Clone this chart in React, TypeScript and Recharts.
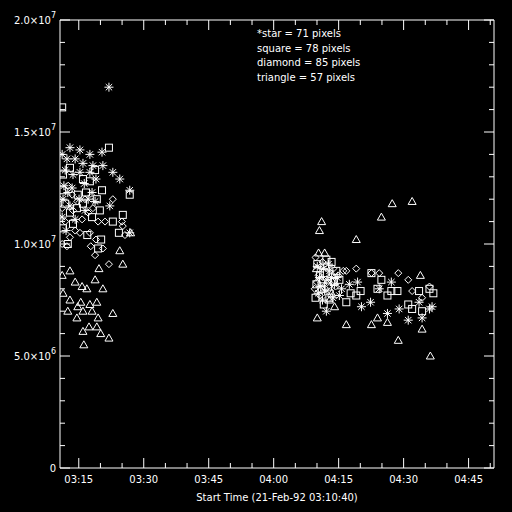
import React from 'react';
import { ScatterChart, Scatter, XAxis, YAxis } from 'recharts';

// minutes after the start time (03:10:40), values in units of 1e6
const START = '03:10:40';
const X_MAX = 100.2;

const starPts = [
  [11.3, 17.0], [2.3, 14.3], [4.6, 14.2], [6.9, 14.0], [9.7, 14.1], [0.5, 14.0], [1.6, 13.8],
  [3.5, 13.8], [5.3, 13.6], [7.6, 13.5], [9.9, 13.5], [12.2, 13.2], [13.8, 12.9], [16.1, 12.4],
  [4.6, 13.2], [8.3, 12.9], [2.8, 12.5], [7.4, 12.3], [0.9, 12.6], [6.5, 12.0], [8.1, 11.9],
  [0.7, 12.0], [2.3, 11.7], [5.8, 11.5], [3.5, 11.1], [1.4, 10.6], [11.5, 11.7], [16.1, 10.5],
  [1.2, 13.3], [3.0, 13.1], [5.6, 12.7], [6.9, 13.2], [1.8, 12.3], [4.4, 12.0], [0.5, 11.2],
  [69.6, 7.2], [71.7, 7.4], [75.6, 6.9], [78.3, 7.1], [80.4, 6.6], [83.6, 6.7], [85.9, 7.2],
  [85.3, 7.1], [68.7, 8.3], [76.5, 8.3], [82.9, 7.4], [73.7, 8.0], [66.8, 8.2], [59.9, 8.5],
  [61.1, 7.9], [62.2, 8.8], [60.6, 7.5], [63.4, 8.2], [59.4, 9.0], [64.5, 7.7], [61.5, 7.0],
  [62.7, 8.5], [65.0, 8.0], [60.2, 8.1], [61.6, 8.4], [63.0, 7.6], [59.6, 7.8], [62.0, 9.1],
  [60.8, 8.9], [64.0, 8.5],
];

const squarePts = [
  [11.3, 14.3], [0.5, 16.1], [0.7, 13.1], [2.3, 13.4], [5.3, 12.9], [6.9, 12.8], [8.1, 13.3],
  [9.7, 12.4], [16.1, 12.2], [4.1, 12.2], [1.2, 11.8], [2.3, 11.4], [7.4, 11.2], [12.2, 11.0],
  [14.5, 11.3], [9.2, 11.5], [5.3, 11.8], [3.9, 11.6], [6.3, 10.4], [0.7, 10.7], [13.6, 10.5],
  [9.5, 10.2], [1.8, 10.0], [8.8, 9.8], [3.0, 10.9], [0.5, 12.4], [6.0, 12.3], [8.5, 12.0],
  [71.9, 8.7], [74.2, 8.4], [73.3, 8.0], [75.6, 7.7], [76.5, 7.9], [77.9, 7.9], [80.4, 7.3],
  [81.3, 7.1], [82.9, 7.9], [86.2, 7.8], [83.6, 7.0], [69.4, 7.9], [67.1, 7.8], [68.4, 7.7],
  [66.1, 7.4], [85.3, 8.0], [59.4, 9.1], [61.1, 8.7], [62.7, 9.2], [63.8, 8.8], [60.4, 8.0],
  [62.2, 7.6], [64.5, 8.4], [59.2, 8.2], [61.5, 9.3], [60.0, 8.6], [61.9, 8.1], [63.2, 8.3],
  [59.0, 7.6], [60.9, 7.3],
];

const diamondPts = [
  [2.3, 10.3], [4.6, 10.5], [6.9, 10.5], [1.6, 9.9], [7.1, 9.9], [8.1, 9.5], [9.9, 9.8],
  [11.3, 9.1], [8.3, 10.2], [14.3, 11.0], [12.2, 12.0], [3.0, 11.5], [1.2, 11.0], [5.1, 11.1],
  [0.5, 10.0], [2.8, 12.2], [5.8, 12.0], [8.8, 11.0], [10.4, 11.0], [14.5, 10.8], [0.5, 11.6],
  [3.5, 10.6], [6.5, 11.4], [15.0, 10.4], [4.0, 11.9], [7.6, 11.6], [1.9, 12.6],
  [66.1, 8.8], [68.4, 8.9], [73.7, 8.7], [78.1, 8.7], [80.4, 8.4], [83.6, 7.6], [81.3, 7.9],
  [71.9, 8.7], [85.3, 8.1], [59.7, 8.6], [60.6, 9.2], [61.8, 8.3], [63.1, 8.9], [58.8, 8.0],
  [62.4, 7.9], [64.2, 8.6], [60.0, 7.7], [63.6, 8.1], [65.4, 8.8], [59.0, 9.4], [61.3, 8.0],
  [62.9, 8.6], [60.3, 9.0], [59.3, 8.3],
];

const trianglePts = [
  [2.3, 8.8], [0.5, 8.6], [9.0, 8.9], [14.5, 9.1], [3.5, 8.3], [5.1, 8.1], [6.2, 8.0],
  [8.1, 8.4], [9.9, 8.0], [0.7, 7.8], [2.3, 7.5], [4.8, 7.4], [6.9, 7.3], [8.5, 7.4],
  [4.1, 7.2], [5.3, 7.0], [7.4, 7.0], [1.8, 7.0], [3.9, 6.7], [8.8, 6.7], [12.2, 6.9],
  [5.3, 6.1], [6.7, 6.3], [8.5, 6.3], [9.4, 6.0], [11.3, 5.8], [5.5, 5.5], [13.8, 9.7],
  [16.3, 10.5],
  [76.7, 11.8], [81.3, 11.9], [74.2, 11.2], [60.4, 11.0], [59.9, 10.6], [68.4, 10.2],
  [59.7, 9.6], [61.1, 9.6], [83.2, 8.6], [59.4, 6.7], [66.1, 6.4], [71.9, 6.4], [73.3, 6.7],
  [75.6, 6.5], [83.6, 6.2], [78.1, 5.7], [85.5, 5.0], [63.4, 7.2], [62.2, 7.5], [60.4, 8.4],
  [62.7, 7.8], [59.2, 8.9],
];

const xTickTimes = [
  '03:15', '03:20', '03:25', '03:30', '03:35', '03:40', '03:45', '03:50', '03:55', '04:00',
  '04:05', '04:10', '04:15', '04:20', '04:25', '04:30', '04:35', '04:40', '04:45', '04:50',
];
const xTickLabels = ['03:15', '03:30', '03:45', '04:00', '04:15', '04:30', '04:45'];

const yTickValues = [0, 1, 2, 3, 4, 5, 6, 7, 8, 9, 10, 11, 12, 13, 14, 15, 16, 17, 18, 19, 20];
const yMajorValues = [0, 5, 10, 15, 20];
const yMajorMantissa = ['0', '5.0', '1.0', '1.5', '2.0'];
const yMajorExponent = ['', '6', '7', '7', '7'];

const legendLines = ['*star = 71 pixels', 'square = 78 pixels', 'diamond = 85 pixels', 'triangle = 57 pixels'];

const FONT = '"DejaVu Sans", sans-serif';
const WHITE = '#ffffff';

const toMin = (s: string) => {
  const p = s.split(':').map(Number);
  return p[0] * 60 + p[1] + (p[2] || 0) / 60;
};
const startMin = toMin(START);
const xTicks = xTickTimes.map((t) => toMin(t) - startMin);
const clockOf = (v: number) => {
  const m = Math.round(v + startMin);
  const hh = String(Math.floor(m / 60)).padStart(2, '0');
  const mm = String(m % 60).padStart(2, '0');
  return `${hh}:${mm}`;
};

const toObjs = (pts: number[][]) => pts.map(([x, y]) => ({ x, y }));

const StarShape = (p: any) => {
  const { cx, cy } = p;
  const r = 4.5;
  const d = 3.2;
  return (
    <g stroke={WHITE} strokeWidth={1}>
      <line x1={cx - r} y1={cy} x2={cx + r} y2={cy} />
      <line x1={cx} y1={cy - r} x2={cx} y2={cy + r} />
      <line x1={cx - d} y1={cy - d} x2={cx + d} y2={cy + d} />
      <line x1={cx - d} y1={cy + d} x2={cx + d} y2={cy - d} />
    </g>
  );
};

const SquareShape = (p: any) => {
  const { cx, cy } = p;
  return <rect x={cx - 3.5} y={cy - 3.5} width={7} height={7} fill="none" stroke={WHITE} strokeWidth={1} />;
};

const DiamondShape = (p: any) => {
  const { cx, cy } = p;
  const r = 3.5;
  return (
    <polygon
      points={`${cx},${cy - r} ${cx + r},${cy} ${cx},${cy + r} ${cx - r},${cy}`}
      fill="none"
      stroke={WHITE}
      strokeWidth={1}
    />
  );
};

const TriangleShape = (p: any) => {
  const { cx, cy } = p;
  return (
    <polygon
      points={`${cx},${cy - 4} ${cx + 4},${cy + 3} ${cx - 4},${cy + 3}`}
      fill="none"
      stroke={WHITE}
      strokeWidth={1}
    />
  );
};

const BottomTick = (p: any) => {
  const { x, y, payload } = p;
  const label = clockOf(payload.value);
  const major = xTickLabels.includes(label);
  return (
    <g>
      <line x1={x} y1={y} x2={x} y2={y - (major ? 10 : 5)} stroke={WHITE} />
      {major && (
        <text x={x} y={y + 15} textAnchor="middle" fill={WHITE} fontSize={10} fontFamily={FONT}>
          {label}
        </text>
      )}
    </g>
  );
};

const TopTick = (p: any) => {
  const { x, y, payload } = p;
  const major = xTickLabels.includes(clockOf(payload.value));
  return <line x1={x} y1={y} x2={x} y2={y + (major ? 10 : 5)} stroke={WHITE} />;
};

const LeftTick = (p: any) => {
  const { x, y, payload } = p;
  const i = yMajorValues.indexOf(payload.value);
  const major = i >= 0;
  return (
    <g>
      <line x1={x} y1={y} x2={x + (major ? 10 : 5)} y2={y} stroke={WHITE} />
      {major && (
        <text x={x - 4} y={y + 4} textAnchor="end" fill={WHITE} fontSize={10} fontFamily={FONT}>
          {yMajorExponent[i] ? `${yMajorMantissa[i]}×10` : yMajorMantissa[i]}
          {yMajorExponent[i] && (
            <tspan dy={-6} fontSize={8}>
              {yMajorExponent[i]}
            </tspan>
          )}
        </text>
      )}
    </g>
  );
};

const RightTick = (p: any) => {
  const { x, y, payload } = p;
  const major = yMajorValues.includes(payload.value);
  return <line x1={x} y1={y} x2={x - (major ? 10 : 5)} y2={y} stroke={WHITE} />;
};

export default function App() {
  return (
    <div style={{ position: 'fixed', left: 0, top: 0, width: 512, height: 512, background: '#000' }}>
      <ScatterChart width={512} height={512} margin={{ top: 0, right: 0, bottom: 0, left: 0 }}>
        <XAxis
          xAxisId="top"
          orientation="top"
          type="number"
          dataKey="x"
          domain={[0, X_MAX]}
          allowDataOverflow
          ticks={xTicks}
          interval={0}
          height={20}
          tickSize={0}
          tickMargin={0}
          tickLine={false}
          axisLine={{ stroke: WHITE }}
          tick={<TopTick />}
        />
        <XAxis
          type="number"
          dataKey="x"
          domain={[0, X_MAX]}
          allowDataOverflow
          ticks={xTicks}
          interval={0}
          height={44}
          tickSize={0}
          tickMargin={0}
          tickLine={false}
          axisLine={{ stroke: WHITE }}
          tick={<BottomTick />}
          label={{
            value: `Start Time (21-Feb-92 ${START})`,
            position: 'insideBottom',
            offset: 11,
            fill: WHITE,
            fontSize: 10,
            fontFamily: FONT,
          }}
        />
        <YAxis
          type="number"
          dataKey="y"
          domain={[0, 20]}
          allowDataOverflow
          ticks={yTickValues}
          interval={0}
          width={60}
          tickSize={0}
          tickMargin={0}
          tickLine={false}
          axisLine={{ stroke: WHITE }}
          tick={<LeftTick />}
        />
        <YAxis
          yAxisId="right"
          orientation="right"
          type="number"
          dataKey="y"
          domain={[0, 20]}
          allowDataOverflow
          ticks={yTickValues}
          interval={0}
          width={18}
          tickSize={0}
          tickMargin={0}
          tickLine={false}
          axisLine={{ stroke: WHITE }}
          tick={<RightTick />}
        />
        <Scatter data={toObjs(trianglePts)} shape={TriangleShape} isAnimationActive={false} />
        <Scatter data={toObjs(diamondPts)} shape={DiamondShape} isAnimationActive={false} />
        <Scatter data={toObjs(squarePts)} shape={SquareShape} isAnimationActive={false} />
        <Scatter data={toObjs(starPts)} shape={StarShape} isAnimationActive={false} />
      </ScatterChart>
      {legendLines.map((t, i) => (
        <div
          key={t}
          style={{
            position: 'absolute',
            left: 257,
            top: 28 + i * 14.7,
            color: WHITE,
            fontFamily: FONT,
            fontSize: 10,
            lineHeight: '12px',
            whiteSpace: 'pre',
          }}
        >
          {t}
        </div>
      ))}
    </div>
  );
}
